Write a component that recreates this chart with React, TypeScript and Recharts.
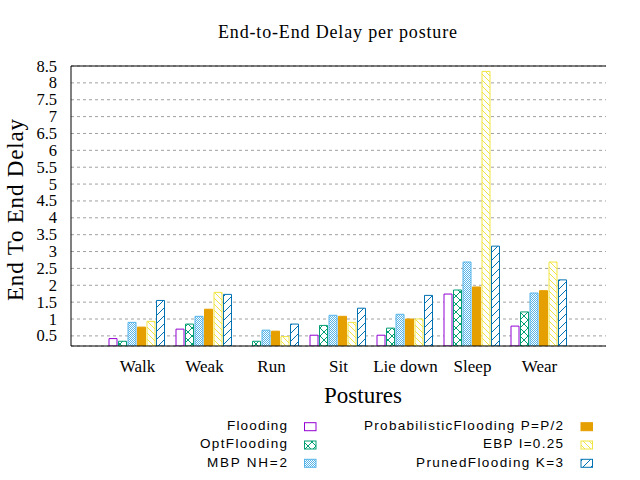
import {
    Bar,
    BarChart,
    CartesianGrid,
    Legend,
    ReferenceLine,
    XAxis,
    YAxis
} from 'recharts';

const postures = ['Walk', 'Weak', 'Run', 'Sit', 'Lie down', 'Sleep', 'Wear'];

const flooding = [0.42, 0.70, 0.20, 0.52, 0.52, 1.74, 0.79];
const optFlooding = [0.34, 0.85, 0.34, 0.81, 0.73, 1.86, 1.21];
const mbpNh2 = [0.90, 1.08, 0.67, 1.11, 1.14, 2.69, 1.77];
const probFlooding = [0.76, 1.29, 0.64, 1.08, 1.00, 1.95, 1.84];
const ebp025 = [0.93, 1.79, 0.48, 0.90, 1.00, 8.34, 2.69];
const prunedK3 = [1.55, 1.73, 0.85, 1.32, 1.70, 3.16, 2.16];

const yTicks = [0.5, 1, 1.5, 2, 2.5, 3, 3.5, 4, 4.5, 5, 5.5, 6, 6.5, 7, 7.5, 8, 8.5];

const data = postures.map((posture, i) => ({
    posture,
    flooding : flooding[i],
    opt      : optFlooding[i],
    mbp      : mbpNh2[i],
    prob     : probFlooding[i],
    ebp      : ebp025[i],
    pruned   : prunedK3[i]
}));

const series = [
    { key: 'flooding', name: 'Flooding', color: '#9400d3', fill: '#ffffff', col: 0, row: 0, tw: 60 },
    { key: 'opt', name: 'OptFlooding', color: '#009e73', fill: 'url(#patOpt)', col: 0, row: 1, tw: 87 },
    { key: 'mbp', name: 'MBP NH=2', color: '#56b4e9', fill: 'url(#patMbp)', col: 0, row: 2, tw: 80 },
    { key: 'prob', name: 'ProbabilisticFlooding P=P/2', color: '#e69f00', fill: '#e69f00', col: 1, row: 0, tw: 199 },
    { key: 'ebp', name: 'EBP I=0.25', color: '#f0e442', fill: 'url(#patEbp)', col: 1, row: 1, tw: 80 },
    { key: 'pruned', name: 'PrunedFlooding K=3', color: '#0072b2', fill: 'url(#patPruned)', col: 1, row: 2, tw: 147 }
];

const serif = '"Liberation Serif", "Times New Roman", serif';
const sans = '"Liberation Sans", Arial, sans-serif';

function Patterns() {
    return (
        <defs>
            <pattern id="patOpt" width={8} height={8} patternUnits="userSpaceOnUse">
                <rect width={8} height={8} fill="#fff" />
                <path d="M0,0 L8,8 M8,0 L0,8" stroke="#009e73" strokeWidth={1} />
            </pattern>
            <pattern id="patMbp" width={2} height={2} patternUnits="userSpaceOnUse">
                <rect width={2} height={2} fill="#fff" />
                <rect x={0} y={0} width={1} height={1} fill="#56b4e9" />
                <rect x={1} y={1} width={1} height={1} fill="#56b4e9" />
            </pattern>
            <pattern id="patEbp" width={6} height={6} patternUnits="userSpaceOnUse">
                <rect width={6} height={6} fill="#fff" />
                <path d="M0,0 L6,6 M-1,5 L1,7 M5,-1 L7,1" stroke="#f0e442" strokeWidth={1} />
            </pattern>
            <pattern id="patPruned" width={8} height={8} patternUnits="userSpaceOnUse">
                <rect width={8} height={8} fill="#fff" />
                <path d="M0,8 L8,0 M-1,1 L1,-1 M7,9 L9,7" stroke="#0072b2" strokeWidth={1} />
            </pattern>
        </defs>
    );
}

// tick labels drawn by hand so the serif font sticks
function XTick(props: any) {
    const { x, y, payload } = props;
    return (
        <text x={x} y={y + 12} textAnchor="middle" fontFamily={serif} fontSize={17} fill="#000">
            {payload.value}
        </text>
    );
}

function YTick(props: any) {
    const { x, y, payload } = props;
    return (
        <text x={x} y={y + 5.5} textAnchor="end" fontFamily={serif} fontSize={16.5} fill="#000">
            {payload.value}
        </text>
    );
}

function LegendBox() {
    return (
        <svg width={640} height={70}>
            <Patterns />
            {series.map((s) => {
                const textX = s.col === 0 ? 287 : 563;
                const boxX = s.col === 0 ? 304.5 : 581;
                const baseY = 20 + s.row * 18.3;
                return (
                    <g key={s.key}>
                        <text
                            x={textX}
                            y={baseY}
                            textAnchor="end"
                            fontFamily={sans}
                            fontSize={13.5}
                            textLength={s.tw}
                            lengthAdjust="spacing"
                            fill="#000"
                        >
                            {s.name}
                        </text>
                        <rect
                            x={boxX}
                            y={baseY - 7.3}
                            width={11.5}
                            height={8}
                            fill={s.fill}
                            stroke={s.color}
                            strokeWidth={1}
                        />
                    </g>
                );
            })}
        </svg>
    );
}

export default function App() {
    return (
        <div style={{ position: 'absolute', left: 0, top: 0, background: '#fff' }}>
            <BarChart
                width={640}
                height={480}
                data={data}
                margin={{ top: 66, right: 34, bottom: 0, left: 0 }}
                barCategoryGap={5}
                barGap={1.5}
            >
                <Patterns />
                <CartesianGrid
                    vertical={false}
                    stroke="#a0a0a0"
                    strokeDasharray="3 3"
                />
                <XAxis
                    dataKey="posture"
                    height={134}
                    padding={{ left: 33, right: 33 }}
                    interval={0}
                    tickLine={false}
                    tickSize={0}
                    tickMargin={14}
                    axisLine={{ stroke: '#000' }}
                    tick={<XTick />}
                />
                <YAxis
                    type="number"
                    width={71}
                    domain={[0.2, 8.5]}
                    ticks={yTicks}
                    interval={0}
                    allowDataOverflow
                    tickLine={false}
                    tickSize={0}
                    tickMargin={14}
                    axisLine={{ stroke: '#000' }}
                    tick={<YTick />}
                />
                <YAxis
                    yAxisId="right"
                    orientation="right"
                    type="number"
                    mirror
                    width={0}
                    domain={[0.2, 8.5]}
                    ticks={yTicks}
                    interval={0}
                    allowDataOverflow
                    tick={false}
                    tickSize={4}
                    tickLine={{ stroke: '#000' }}
                    axisLine={{ stroke: '#000' }}
                />
                <ReferenceLine y={8.5} stroke="#000" strokeWidth={1} />
                {series.map((s) => (
                    <Bar
                        key={s.key}
                        dataKey={s.key}
                        name={s.name}
                        fill={s.fill}
                        stroke={s.color}
                        strokeWidth={1}
                        isAnimationActive={false}
                    />
                ))}
                <Legend
                    layout="horizontal"
                    verticalAlign="middle"
                    align="center"
                    wrapperStyle={{ top: 410, left: 0, width: 640, height: 70 }}
                    content={() => <LegendBox />}
                />
                <text
                    x={337.5}
                    y={38}
                    textAnchor="middle"
                    fontFamily={serif}
                    fontSize={18}
                    textLength={239}
                    lengthAdjust="spacing"
                    fill="#000"
                >
                    End-to-End Delay per posture
                </text>
                <text
                    x={23}
                    y={210}
                    transform="rotate(-90 23 210)"
                    textAnchor="middle"
                    fontFamily={serif}
                    fontSize={23}
                    textLength={182}
                    lengthAdjust="spacing"
                    fill="#000"
                >
                    End To End Delay
                </text>
                <text
                    x={363}
                    y={403}
                    textAnchor="middle"
                    fontFamily={serif}
                    fontSize={23}
                    fill="#000"
                >
                    Postures
                </text>
            </BarChart>
        </div>
    );
}
